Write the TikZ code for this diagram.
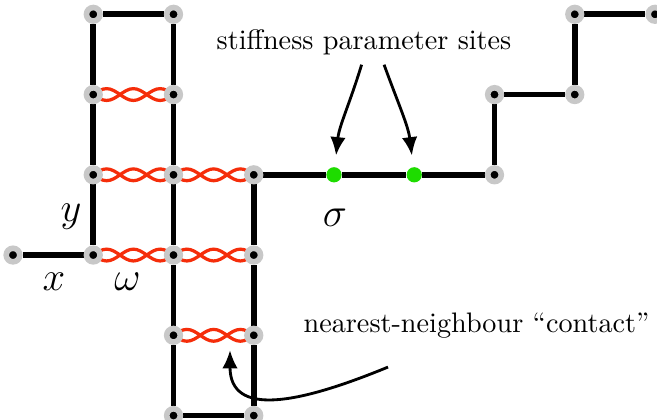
\documentclass[tikz,border=0pt]{standalone}
\usetikzlibrary{arrows.meta,calc,backgrounds}
\definecolor{ringgray}{RGB}{200,200,200}
\definecolor{contactred}{RGB}{245,45,10}
\definecolor{sitegreen}{RGB}{30,220,0}
\def\amp{2.1pt}
\newcommand\contactpair[2]{%
  \draw[contactline] let \p1=($(#2.center)-(#1.center)$) in
    (#1.center) sin ++(\x1/6,\amp) cos ++(\x1/6,-\amp) sin ++(\x1/6,-\amp)
    cos ++(\x1/6,\amp) sin ++(\x1/6,\amp) cos ++(\x1/6,-\amp);
  \draw[contactline] let \p1=($(#2.center)-(#1.center)$) in
    (#1.center) sin ++(\x1/6,-\amp) cos ++(\x1/6,\amp) sin ++(\x1/6,\amp)
    cos ++(\x1/6,-\amp) sin ++(\x1/6,-\amp) cos ++(\x1/6,\amp);
}
\begin{document}
\begin{tikzpicture}[
  site/.style={circle, fill=black, draw=ringgray, line width=2pt, minimum size=4.8pt, inner sep=0pt},
  greensite/.style={circle, fill=sitegreen, minimum size=5.4pt, inner sep=0pt},
  bond/.style={line width=2pt},
  contactline/.style={contactred, line width=1.15pt},
  note/.style={font=\normalsize},
  pointer/.style={line width=1pt, -{Latex[length=6.5pt,width=5.5pt]}},
  lbl/.style={font=\Large}
]
\useasboundingbox (-0.162,-2.044) rectangle (8.025,3.178);
% lattice sites on the chain
\node[site] (va) at (0,0) {};
\node[site] (vb) at (1,0) {};
\node[site] (vc) at (1,1) {};
\node[site] (vd) at (1,2) {};
\node[site] (ve) at (1,3) {};
\node[site] (vf) at (2,3) {};
\node[site] (vg) at (2,2) {};
\node[site] (vh) at (2,1) {};
\node[site] (vi) at (2,0) {};
\node[site] (vj) at (2,-1) {};
\node[site] (vk) at (2,-2) {};
\node[site] (vl) at (3,-2) {};
\node[site] (vm) at (3,-1) {};
\node[site] (vn) at (3,0) {};
\node[site] (vo) at (3,1) {};
\node[greensite] (p1) at (4,1) {};
\node[greensite] (p2) at (5,1) {};
\node[site] (vq) at (6,1) {};
\node[site] (vr) at (6,2) {};
\node[site] (vs) at (7,2) {};
\node[site] (vt) at (7,3) {};
\node[site] (vu) at (8,3) {};
\begin{pgfonlayer}{background}
  \draw[bond] (va) -- (vb) -- (vc) -- (vd) -- (ve) -- (vf) -- (vg) -- (vh) -- (vi)
    -- (vj) -- (vk) -- (vl) -- (vm) -- (vn) -- (vo) -- (p1) -- (p2) -- (vq)
    -- (vr) -- (vs) -- (vt) -- (vu);
  \contactpair{vd}{vg}
  \contactpair{vc}{vh}
  \contactpair{vh}{vo}
  \contactpair{vb}{vi}
  \contactpair{vi}{vn}
  \contactpair{vj}{vm}
\end{pgfonlayer}
% labels
\node[lbl] (ylab) at (0.723,0.474) {$y$};
\node[lbl] (xlab) at (0.511,-0.330) {$x$};
\node[lbl] (wlab) at (1.427,-0.330) {$\omega$};
\node[lbl] (slab) at (4.012,0.461) {$\sigma$};
% annotations
\node[note] (stiff) at (4.374,2.654) {stiffness parameter sites};
\draw[pointer, shorten >=4pt] ([xshift=-0.03cm]stiff.south) to[out=253,in=84] (p1);
\draw[pointer, shorten >=4pt] ([xshift=0.25cm]stiff.south) to[out=-70,in=97] (p2);
\node[note] (nn) at (5.776,-0.885) {nearest-neighbour “contact”};
\coordinate (nnstart) at (4.673,-1.396);
\coordinate (nntip) at (2.704,-1.184);
\draw[pointer] (nnstart) .. controls (3.545,-1.86) and (2.704,-2.02) .. (nntip);
\end{tikzpicture}
\end{document}
